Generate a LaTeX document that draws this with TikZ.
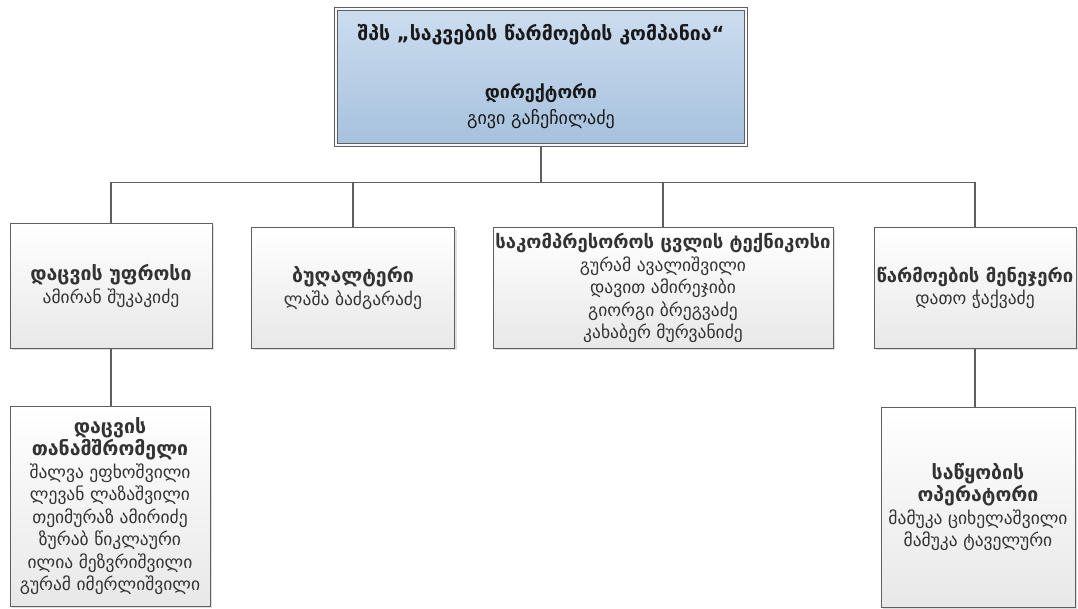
\documentclass[tikz,border=0pt]{standalone}
\usepackage{fontspec}
\setmainfont{DejaVu Sans}
\usetikzlibrary{shadows}
\definecolor{headtop}{RGB}{204,221,239}
\definecolor{headbot}{RGB}{166,193,221}
\definecolor{boxline}{RGB}{95,95,95}
\newcommand{\rolefont}{\bfseries\fontsize{19.5}{22.5}\selectfont}

\begin{document}
\begin{tikzpicture}[x=1pt,y=-1pt,
	link/.style={draw=boxline,line width=1.2pt},
	box/.style={draw=boxline,line width=1pt,top color=white,bottom color=black!9,drop shadow={shadow xshift=2pt,shadow yshift=-2pt,opacity=0.25},align=center,inner sep=0pt,text=black!80,font=\fontsize{17.5}{22.5}\selectfont},
	headbox/.style={box,top color=headtop,bottom color=headbot,double=white!85!headtop,double distance=1.5pt,line width=1.2pt,text=black!90,font=\fontsize{18}{26}\selectfont}]
	\useasboundingbox (0,0) rectangle (1078,609);
			\node[headbox,minimum width=410,minimum height=136] (director) at (541,77) {{\bfseries\fontsize{19.5}{26}\selectfont შპს „საკვების წარმოების კომპანია“}\\[32pt]{\bfseries დირექტორი}\\გივი გაჩეჩილაძე};
			\node[box,minimum width=202,minimum height=124] (security) at (111,286) {{\rolefont დაცვის უფროსი}\\ამირან შუკაკიძე};
			\node[box,minimum width=203,minimum height=120] (accountant) at (353,288) {{\rolefont ბუღალტერი}\\ლაშა ბაძგარაძე};
			\node[box,minimum width=340,minimum height=120] (technician) at (663,288) {{\bfseries\fontsize{18.5}{22.5}\selectfont საკომპრესოროს ცვლის ტექნიკოსი}\\გურამ ავალიშვილი\\დავით ამირეჯიბი\\გიორგი ბრეგვაძე\\კახაბერ მურვანიძე};
			\node[box,minimum width=202,minimum height=120] (manager) at (975,288) {{\bfseries\fontsize{18.5}{22.5}\selectfont წარმოების მენეჯერი}\\დათო ჭაქვაძე};
			\node[box,minimum width=200,minimum height=200] (guard) at (110,506) {{\rolefont დაცვის}\\{\rolefont თანამშრომელი}\\შალვა ეფხოშვილი\\ლევან ლაზაშვილი\\თეიმურაზ ამირიძე\\ზურაბ წიკლაური\\ილია მეზვრიშვილი\\გურამ იმერლიშვილი};
			\node[box,minimum width=194,minimum height=200] (operator) at (978,507) {{\rolefont საწყობის}\\{\rolefont ოპერატორი}\\მამუკა ციხელაშვილი\\მამუკა ტაველური};
			
			\draw[link] (director.south) -- ++(0,37) coordinate (bus);
			\draw[link] (security.north) |- (bus) -| (manager.north);
			\draw[link] (accountant.north) -- (accountant.north |- bus);
			\draw[link] (technician.north) -- (technician.north |- bus);
			\draw[link] (security.south) -- (security.south |- guard.north);
			\draw[link] (manager.south) -- (manager.south |- operator.north);
	\end{tikzpicture}
\end{document}
